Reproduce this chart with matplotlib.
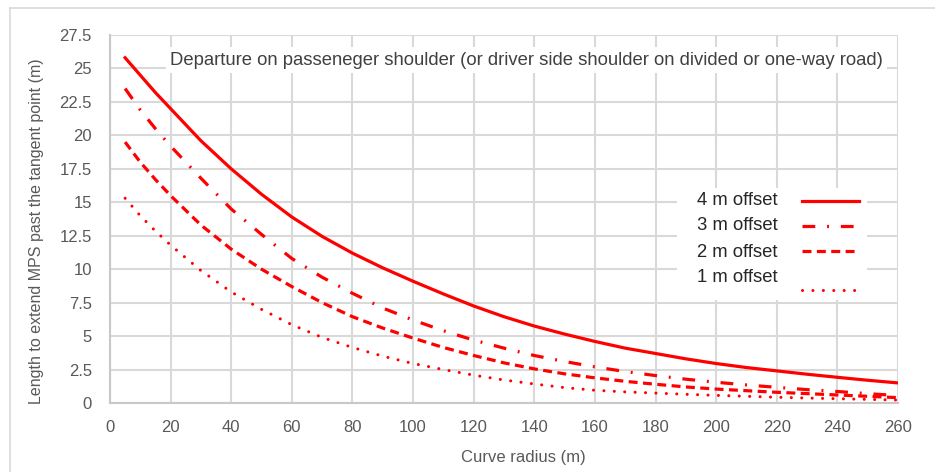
import matplotlib.pyplot as plt
from matplotlib.lines import Line2D

plt.rcParams['font.family'] = ['Liberation Sans', 'DejaVu Sans']

# curve radius (m)
radius = [5, 10, 15, 20, 30, 40, 50, 60, 70, 80, 90, 100, 110, 120, 130,
          140, 150, 160, 170, 180, 190, 200, 210, 220, 230, 240, 250, 260]

# length to extend MPS past the tangent point (m), per lateral offset
off_4m = [25.8, 24.5, 23.2, 22.0, 19.6, 17.5, 15.6, 13.9, 12.45, 11.2, 10.1, 9.1, 8.15, 7.25, 6.45,
          5.75, 5.15, 4.6, 4.1, 3.7, 3.3, 2.95, 2.65, 2.4, 2.15, 1.92, 1.7, 1.5]
off_3m = [23.5, 21.9, 20.5, 19.2, 16.8, 14.5, 12.6, 10.8, 9.4, 8.2, 7.1, 6.2, 5.4, 4.7, 4.1,
          3.55, 3.1, 2.7, 2.35, 2.05, 1.78, 1.55, 1.35, 1.17, 1.0, 0.86, 0.7, 0.55]
off_2m = [19.5, 18.0, 16.7, 15.5, 13.3, 11.5, 10.0, 8.7, 7.5, 6.45, 5.6, 4.85, 4.15, 3.55, 3.0,
          2.55, 2.18, 1.88, 1.62, 1.4, 1.2, 1.04, 0.92, 0.8, 0.7, 0.6, 0.5, 0.4]
off_1m = [15.3, 14.0, 12.85, 11.8, 9.9, 8.3, 7.0, 5.85, 4.9, 4.15, 3.5, 2.95, 2.5, 2.08, 1.72,
          1.42, 1.15, 0.95, 0.83, 0.74, 0.65, 0.57, 0.5, 0.43, 0.37, 0.32, 0.27, 0.22]

labels = ['4 m offset', '3 m offset', '2 m offset', '1 m offset']
series = [off_4m, off_3m, off_2m, off_1m]

red = '#ff0000'
grey = '#595959'
styles = ['-', (0, (4, 3.7, 0.6, 3.7)), (0, (2.8, 1.7)), (0, (0.01, 3.4))]
widths = [2.3, 2.3, 2.3, 2.2]

fig = plt.figure(figsize=(9.35, 4.72), dpi=100)
# thin frame at top and left of the picture
fig.add_artist(Line2D([0.0107, 1.0], [0.983, 0.983], transform=fig.transFigure,
                      color='#d9d9d9', lw=1.2))
fig.add_artist(Line2D([0.0107, 0.0107], [0.0, 0.983], transform=fig.transFigure,
                      color='#d9d9d9', lw=1.2))

ax = fig.add_axes([0.1176, 0.1462, 0.8428, 0.7796])

for ys, ls, lw in zip(series, styles, widths):
    ax.plot(radius, ys, color=red, lw=lw, ls=ls, dash_capstyle='round' if lw < 2.25 else 'butt')

ax.set_xlim(0, 260)
ax.set_ylim(0, 27.5)
ax.set_xticks(range(0, 261, 20))
ax.set_yticks([0, 2.5, 5, 7.5, 10, 12.5, 15, 17.5, 20, 22.5, 25, 27.5])
ax.set_yticklabels(['0', '2.5', '5', '7.5', '10', '12.5', '15', '17.5', '20', '22.5', '25', '27.5'])
ax.grid(True, color='#d9d9d9', lw=1.5)
ax.set_axisbelow(True)
for s in ax.spines.values():
    s.set_visible(False)
for side in ['left', 'bottom']:
    ax.spines[side].set_visible(True)
    ax.spines[side].set_color('#c8c8c8')
    ax.spines[side].set_linewidth(1.5)
ax.tick_params(axis='y', length=0, labelsize=12, colors=grey, pad=13)
ax.tick_params(axis='x', length=0, labelsize=12, colors=grey, pad=12.5)

ax.set_xlabel('Curve radius (m)', fontsize=12, color=grey)
ax.xaxis.set_label_coords(0.524, -0.149)
ax.xaxis.label.set_va('center')
ax.set_ylabel('Length to extend MPS past the tangent point (m)', fontsize=11.5, color=grey)
ax.yaxis.set_label_coords(-0.0933, 0.466)
ax.yaxis.label.set_va('center')

ax.text(0.5285, 0.932,
        'Departure on passeneger shoulder (or driver side shoulder on divided or one-way road)',
        transform=ax.transAxes, ha='center', va='center', fontsize=13.3, color='#404040',
        bbox=dict(facecolor='white', edgecolor='none', pad=3))

# legend: text on the left, line sample on the right, on a white patch
ax.add_patch(plt.Rectangle((0.7195, 0.28), 0.2412, 0.3042, transform=ax.transAxes,
                           facecolor='white', edgecolor='none', zorder=2))
text_y = [0.5516, 0.4837, 0.4103, 0.3424]
line_y = [0.549, 0.481, 0.413, 0.307]
for lab, ty, ly, ls, lw in zip(labels, text_y, line_y, styles, widths):
    ax.text(0.8477, ty, lab, transform=ax.transAxes, ha='right', va='center',
            fontsize=13.3, color='#262626', zorder=3)
    ax.plot([0.878, 0.9505], [ly, ly], transform=ax.transAxes, color=red, lw=lw, ls=ls,
            dash_capstyle='round' if lw < 2.25 else 'butt', zorder=3)

fig.savefig('out.png', dpi=100)
